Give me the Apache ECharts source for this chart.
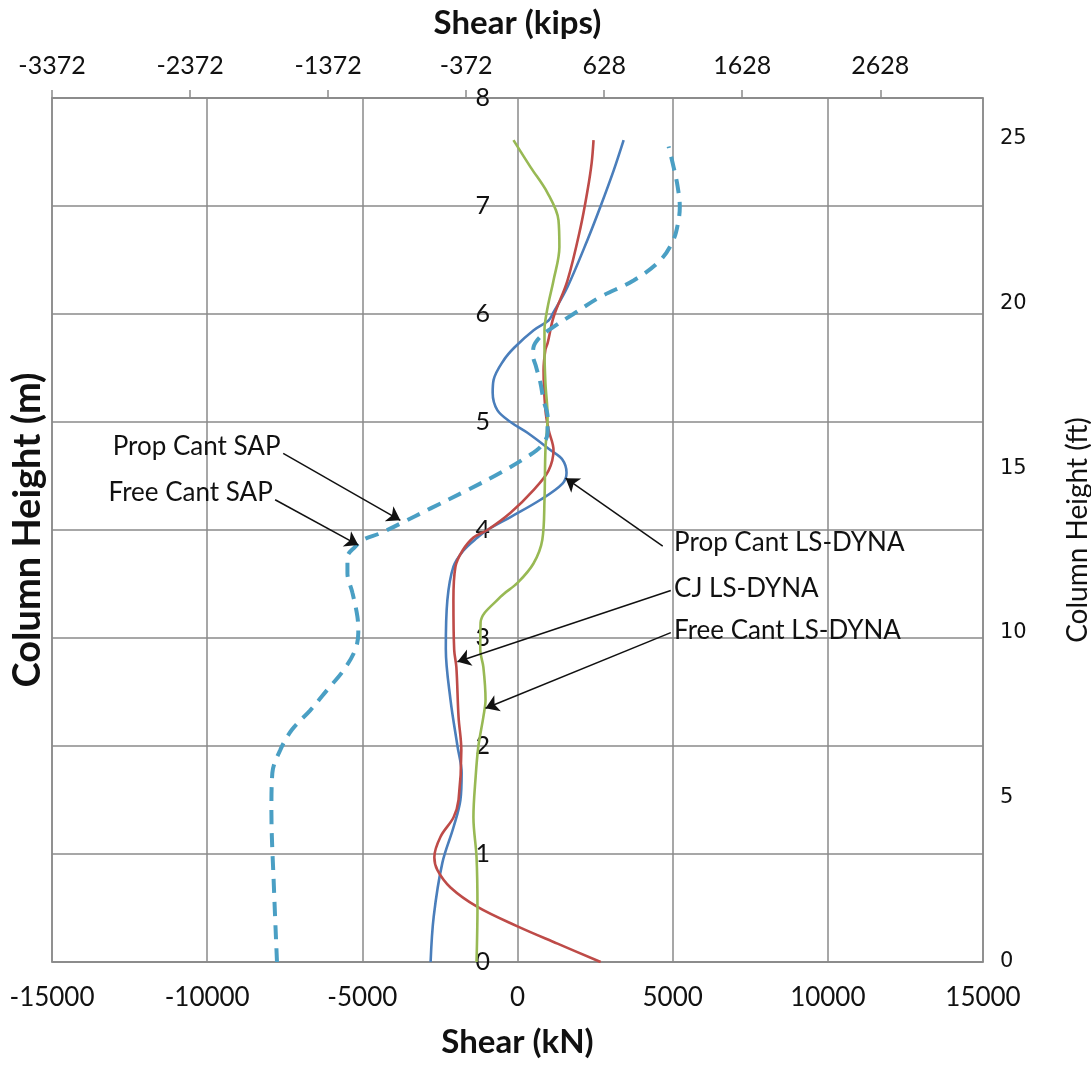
<!DOCTYPE html>
<html><head><meta charset="utf-8">
<script src="https://cdn.jsdelivr.net/npm/echarts@6/dist/echarts.min.js"></script>
<style>html,body{margin:0;padding:0;background:#fff}#c{width:1091px;height:1067px}</style>
</head><body><div id="c"></div>
<script>
// ---- data ([shear kN, height m]) ----
const propCantLsDyna = [[-2800,0],[-2700,0.42],[-2420,0.92],[-2060,1.25],[-1840,1.5],[-1800,1.75],[-1935,2.0],[-2160,2.43],[-2310,2.9],[-2260,3.35],[-2065,3.66],[-1740,3.81],[-1290,3.93],[-970,4.0],[-225,4.12],[740,4.28],[1450,4.43],[1580,4.53],[1450,4.65],[1060,4.74],[320,4.9],[-225,5.0],[-650,5.11],[-800,5.27],[-770,5.39],[-450,5.57],[-100,5.69],[520,5.85],[1000,5.94],[1130,6.0],[1610,6.25],[2260,6.69],[2680,7.0],[3100,7.33],[3420,7.61]];
const cjLsDyna = [[2680,0],[1290,0.17],[0,0.33],[-1290,0.51],[-2160,0.69],[-2580,0.85],[-2680,0.97],[-2480,1.16],[-2060,1.34],[-1900,1.5],[-1810,1.96],[-1900,2.27],[-1970,2.73],[-2040,2.89],[-2065,3.35],[-2000,3.66],[-1770,3.81],[-1420,3.93],[-970,4.0],[-225,4.16],[515,4.37],[1000,4.55],[1160,4.74],[1000,4.93],[900,5.11],[840,5.48],[900,5.67],[970,5.73],[1160,5.97],[1610,6.31],[2030,6.8],[2260,7.15],[2390,7.4],[2450,7.61]];
const freeCantLsDyna = [[-1320,0],[-1290,0.51],[-1320,0.97],[-1420,1.34],[-1350,1.71],[-1260,2.0],[-1100,2.27],[-1030,2.43],[-1100,2.73],[-1200,2.89],[-1190,3.14],[-550,3.38],[0,3.51],[515,3.69],[800,3.91],[870,4.28],[900,4.74],[970,5.05],[900,5.36],[870,5.67],[870,5.85],[970,6.06],[1160,6.31],[1350,6.62],[1320,6.87],[970,7.12],[420,7.36],[-130,7.61]];
const sap = [[-7750,0],[-7850,0.7],[-7930,1.4],[-7900,1.75],[-7650,1.96],[-7270,2.15],[-6680,2.33],[-6130,2.52],[-5610,2.7],[-5230,2.89],[-5130,3.05],[-5160,3.2],[-5320,3.42],[-5480,3.6],[-5480,3.75],[-5250,3.84],[-4970,3.91],[-4420,3.97],[-3770,4.06],[-2800,4.2],[-1610,4.37],[-550,4.53],[320,4.68],[740,4.77],[970,4.9],[970,5.05],[840,5.2],[740,5.36],[600,5.51],[500,5.62],[515,5.69],[740,5.79],[1160,5.88],[1800,6.0],[2680,6.16],[3740,6.31],[4610,6.5],[5030,6.69],[5190,6.87],[5230,6.99],[5160,7.18],[5030,7.36],[4870,7.55]];

// ---- axes ----
const kNPerKip = 4.44822;
const mPerFt = 0.3048;
const shearRangeKN = [-15000, 15000];
const heightRangeM = [0, 8];
const kipsTickLabels = ['-3372','-2372','-1372','-372','628','1628','2628'];

// ---- annotations ----
const annotationTexts = ['Prop Cant SAP','Free Cant SAP','Prop Cant LS-DYNA','CJ LS-DYNA','Free Cant LS-DYNA'];
const annotationAnchors = [[-7620,4.77],[-7870,4.35],[5030,3.88],[5030,3.46],[5030,3.07]];
const annotationSides = ['left','left','right','right','right'];
const arrowTails = [[-7550,4.71],[-7810,4.28],[4680,3.85],[4940,3.44],[4940,3.05]];
const arrowTips = [[-3775,4.09],[-5130,3.86],[1550,4.48],[-1935,2.78],[-1030,2.35]];

const FONT = 'Lato';
const GRID = '#8a8a8a';
const TXT = '#111';

const chart = echarts.init(document.getElementById('c'), null, {renderer:'canvas'});
const lineSeries = (name, data, color, extra) => Object.assign({
  name, type:'line', data, xAxisIndex:0, yAxisIndex:0, showSymbol:false, smooth:0.35,
  lineStyle:{color, width:2.6}, itemStyle:{color}, z:3
}, extra||{});

chart.setOption({
  animation:false,
  backgroundColor:'#fff',
  grid:{left:52, right:108, top:98, bottom:105, show:true, borderColor:GRID, borderWidth:1.5, outerBoundsMode:'none', containLabel:false},
  xAxis:[
    {type:'value', position:'bottom', min:shearRangeKN[0], max:shearRangeKN[1], interval:5000,
     name:'Shear (kN)', nameLocation:'middle', nameGap:64, nameMoveOverlap:false,
     nameTextStyle:{fontFamily:FONT, fontWeight:'bold', fontSize:33, color:TXT},
     axisLine:{show:true, onZero:false, lineStyle:{color:GRID, width:1.5}}, axisTick:{show:false},
     axisLabel:{fontFamily:FONT, fontSize:26, color:TXT, margin:23, formatter:v=>String(v)},
     splitLine:{show:true, lineStyle:{color:GRID, width:1.5}}},
    {type:'value', position:'top', min:0, max:(shearRangeKN[1]-shearRangeKN[0])/kNPerKip, interval:1000,
     name:'Shear (kips)', nameLocation:'middle', nameGap:58, nameMoveOverlap:false,
     nameTextStyle:{fontFamily:FONT, fontWeight:'bold', fontSize:33, color:TXT},
     axisLine:{show:true, onZero:false, lineStyle:{color:GRID, width:1.5}},
     axisTick:{show:true, length:8, lineStyle:{color:GRID, width:1.5}},
     axisLabel:{fontFamily:FONT, fontSize:25, color:TXT, margin:20, showMaxLabel:false,
       formatter:(v,i)=> kipsTickLabels[i] !== undefined ? kipsTickLabels[i] : ''},
     splitLine:{show:false}}
  ],
  yAxis:[
    {type:'value', position:'left', min:heightRangeM[0], max:heightRangeM[1], interval:1,
     name:'Column Height (m)', nameLocation:'middle', nameGap:5, nameMoveOverlap:false,
     nameTextStyle:{fontFamily:FONT, fontWeight:'bold', fontSize:38, color:TXT},
     axisLine:{show:false, onZero:false}, axisTick:{show:false},
     axisLabel:{fontFamily:FONT, fontSize:25, color:TXT, margin:-438},
     splitLine:{show:true, lineStyle:{color:GRID, width:1.5}}},
    {type:'value', position:'right', min:0, max:heightRangeM[1]/mPerFt, interval:5,
     name:'Column Height (ft)', nameLocation:'middle', nameGap:81, nameMoveOverlap:false,
     nameTextStyle:{fontFamily:FONT, fontSize:28, color:TXT},
     axisLine:{show:false, onZero:false}, axisTick:{show:false},
     axisLabel:{fontFamily:'DejaVu Sans', fontSize:21, color:TXT, margin:17, showMaxLabel:false},
     splitLine:{show:false}}
  ],
  series:[
    lineSeries('Prop Cant LS-DYNA', propCantLsDyna, '#4a7ebb'),
    lineSeries('CJ LS-DYNA', cjLsDyna, '#be4b48'),
    lineSeries('Free Cant LS-DYNA', freeCantLsDyna, '#98b954'),
    lineSeries('SAP', sap, '#4a9fc4', {lineStyle:{color:'#4a9fc4', width:4, type:[14,9]}}),
    {
      name:'annotations', type:'scatter', xAxisIndex:0, yAxisIndex:0, symbolSize:1, silent:true, z:5,
      itemStyle:{opacity:1, color:'rgba(0,0,0,0)'},
      data: annotationTexts.map((t,i)=>({
        value: annotationAnchors[i], name:t,
        label:{show:true, position:annotationSides[i], distance:0, formatter:t,
          fontFamily:FONT, fontSize:26, color:TXT, opacity:1}
      })),
      markLine:{
        silent:true, symbol:['none','arrow'], symbolSize:13, precision:6,
        label:{show:false},
        lineStyle:{color:'#111', width:1.5, type:'solid', opacity:1},
        data: arrowTails.map((s,i)=>[{coord:s},{coord:arrowTips[i]}])
      }
    }
  ]
});
</script>
</body></html>
